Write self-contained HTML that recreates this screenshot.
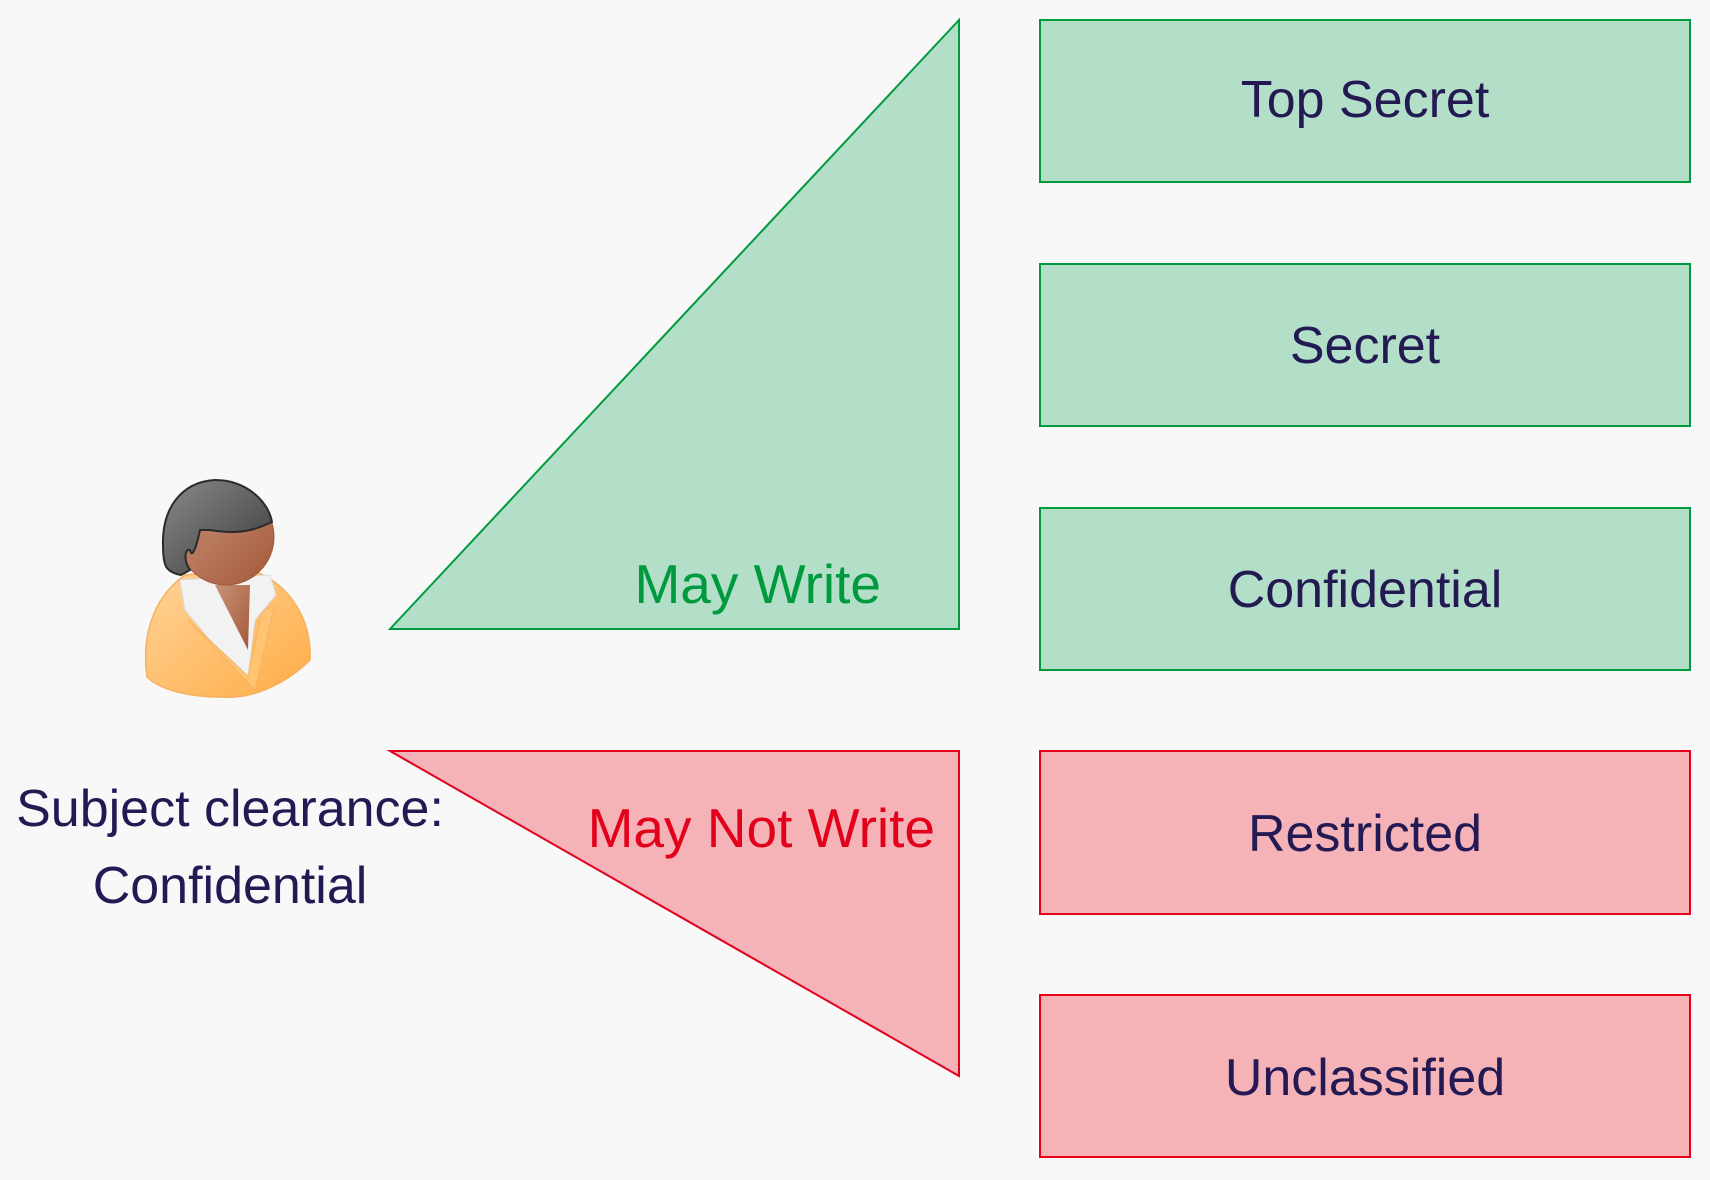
<!DOCTYPE html>
<html><head><meta charset="utf-8"><style>html,body{margin:0;padding:0;background:#f8f8f8}svg{display:block}</style></head><body>
<svg width="1710" height="1180" viewBox="0 0 1710 1180" xmlns="http://www.w3.org/2000/svg" font-family="Liberation Sans, sans-serif">
<defs>
<linearGradient id="hair" x1="0" y1="0" x2="1" y2="1"><stop offset="0" stop-color="#8a8a8a"/><stop offset="1" stop-color="#3a3a3a"/></linearGradient>
<linearGradient id="face" x1="0" y1="0" x2="1" y2="1"><stop offset="0" stop-color="#c79277"/><stop offset="1" stop-color="#a4583a"/></linearGradient>
<linearGradient id="body" x1="0" y1="0" x2="1" y2="1"><stop offset="0" stop-color="#ffd49a"/><stop offset="1" stop-color="#ffac45"/></linearGradient>
</defs>
<rect width="1710" height="1180" fill="#f8f8f8"/>
<polygon points="390,629 959,20 959,629" fill="#b3dfc8" stroke="#009a3e" stroke-width="2"/>
<polygon points="390,751 959,751 959,1076" fill="#f5b3b8" stroke="#e3001b" stroke-width="2"/>
<text x="881" y="603" font-size="55" fill="#009a3e" text-anchor="end">May Write</text>
<text x="935" y="847" font-size="55" fill="#e3001b" text-anchor="end">May Not Write</text>
<g stroke-width="2" font-size="52" fill="#231a54" text-anchor="middle">
<rect x="1040" y="20" width="650" height="162" fill="#b3dfc8" stroke="#009a3e"/>
<rect x="1040" y="264" width="650" height="162" fill="#b3dfc8" stroke="#009a3e"/>
<rect x="1040" y="508" width="650" height="162" fill="#b3dfc8" stroke="#009a3e"/>
<rect x="1040" y="751" width="650" height="163" fill="#f5b3b8" stroke="#e3001b"/>
<rect x="1040" y="995" width="650" height="162" fill="#f5b3b8" stroke="#e3001b"/>
</g>
<g font-size="52" fill="#231a54" text-anchor="middle">
<text x="1365" y="117">Top Secret</text>
<text x="1365" y="363">Secret</text>
<text x="1365" y="607">Confidential</text>
<text x="1365" y="851">Restricted</text>
<text x="1365" y="1095">Unclassified</text>
<text x="230" y="826">Subject clearance:</text>
<text x="230" y="903">Confidential</text>
</g>
<!-- person -->
<path d="M147,677 C142,640 150,600 185,575 L250,570 C285,580 312,615 310,660 C285,685 250,700 220,697 C190,697 160,690 147,677 Z" fill="url(#body)" stroke="#f5b060" stroke-width="1.5"/>
<path d="M180,580 L185,610 L210,640 L248,676 L255,620 L276,595 L270,575 Z" fill="#f2f2f2" stroke="#ddd" stroke-width="1"/>
<path d="M215,585 L250,585 L248,650 Z" fill="url(#face)"/>
<path d="M188,620 L248,676 L262,612 L275,604 L255,690 Z" fill="#ffc777" stroke="#f5b060" stroke-width="1" opacity="0.8"/>
<circle cx="226" cy="537" r="48" fill="url(#face)" stroke="#a4583a" stroke-width="1"/>
<path d="M181,575 C165,572 163,565 163,545 C162,510 180,482 215,480 C245,480 268,500 272,522 C255,530 240,535 210,530 L200,530 C197,545 192,560 190,550 C185,548 183,560 190,570 Z" fill="url(#hair)" stroke="#2a2a2a" stroke-width="2"/>
</svg>
</body></html>
